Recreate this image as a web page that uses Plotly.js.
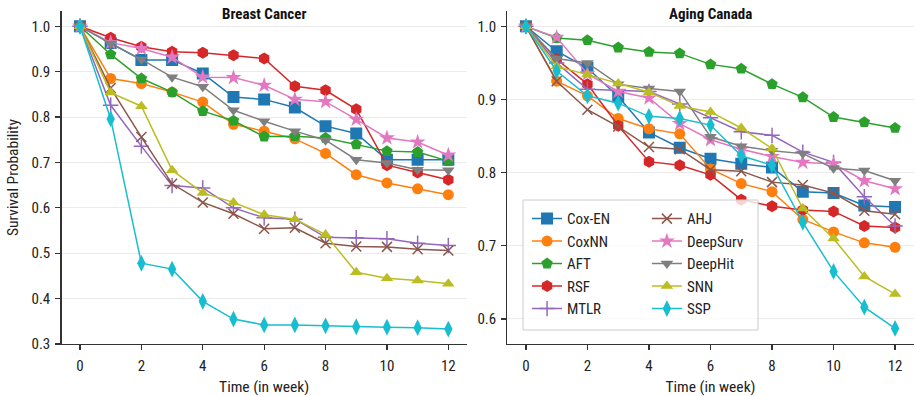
<!DOCTYPE html>
<html><head><meta charset="utf-8">
<script src="https://cdn.plot.ly/plotly-3.0.1.min.js"></script>
<style>html,body{margin:0;padding:0;background:#fff}#chart{width:915px;height:396px}</style>
</head><body><div id="chart"></div>
<script>
const weeks = [0,1,2,3,4,5,6,7,8,9,10,11,12];
const methods = ['Cox-EN','CoxNN','AFT','RSF','MTLR','AHJ','DeepSurv','DeepHit','SNN','SSP'];
const panelTitles = ['Breast Cancer','Aging Canada'];
const xTickVals = [0,2,4,6,8,10,12];

// Breast Cancer
const bcCoxEN    = [1.0,0.963,0.926,0.926,0.896,0.844,0.839,0.821,0.780,0.764,0.706,0.706,0.706];
const bcCoxNN    = [1.0,0.885,0.874,0.855,0.833,0.784,0.769,0.752,0.720,0.673,0.655,0.642,0.629];
const bcAFT      = [1.0,0.938,0.885,0.855,0.813,0.792,0.757,0.758,0.754,0.740,0.725,0.723,0.703];
const bcRSF      = [1.0,0.975,0.955,0.944,0.942,0.936,0.929,0.868,0.859,0.817,0.694,0.678,0.662];
const bcMTLR     = [1.0,0.826,0.736,0.649,0.644,0.600,0.578,0.575,0.535,0.534,0.532,0.522,0.517];
const bcAHJ      = [1.0,0.864,0.756,0.653,0.612,0.587,0.554,0.556,0.522,0.515,0.514,0.509,0.506];
const bcDeepSurv = [1.0,0.964,0.951,0.932,0.888,0.887,0.870,0.839,0.834,0.795,0.754,0.745,0.716];
const bcDeepHit  = [1.0,0.962,0.927,0.888,0.867,0.815,0.791,0.769,0.749,0.706,0.699,0.684,0.683];
const bcSNN      = [1.0,0.854,0.824,0.683,0.633,0.612,0.585,0.575,0.541,0.458,0.445,0.440,0.433];
const bcSSP      = [1.0,0.796,0.478,0.465,0.394,0.355,0.342,0.342,0.340,0.338,0.337,0.336,0.333];

// Aging Canada
const acCoxEN    = [1.0,0.966,0.943,0.904,0.855,0.834,0.819,0.812,0.807,0.774,0.772,0.755,0.753];
const acCoxNN    = [1.0,0.925,0.905,0.874,0.860,0.853,0.805,0.785,0.774,0.736,0.719,0.704,0.698];
const acAFT      = [1.0,0.984,0.981,0.971,0.965,0.963,0.948,0.942,0.921,0.903,0.876,0.869,0.861];
const acRSF      = [1.0,0.955,0.921,0.864,0.815,0.810,0.797,0.763,0.754,0.749,0.747,0.727,0.725];
const acMTLR     = [1.0,0.950,0.914,0.913,0.911,0.894,0.875,0.856,0.851,0.828,0.814,0.767,0.727];
const acAHJ      = [1.0,0.925,0.886,0.863,0.835,0.832,0.804,0.802,0.787,0.783,0.772,0.748,0.743];
const acDeepSurv = [1.0,0.985,0.935,0.911,0.902,0.867,0.845,0.832,0.822,0.814,0.812,0.789,0.778];
const acDeepHit  = [1.0,0.956,0.950,0.921,0.915,0.911,0.849,0.836,0.830,0.826,0.806,0.803,0.789];
const acSNN      = [1.0,0.945,0.934,0.922,0.910,0.891,0.883,0.861,0.833,0.751,0.710,0.658,0.634];
const acSSP      = [1.0,0.939,0.905,0.895,0.877,0.874,0.865,0.823,0.810,0.732,0.665,0.616,0.587];

const bcSeries = [bcCoxEN,bcCoxNN,bcAFT,bcRSF,bcMTLR,bcAHJ,bcDeepSurv,bcDeepHit,bcSNN,bcSSP];
const acSeries = [acCoxEN,acCoxNN,acAFT,acRSF,acMTLR,acAHJ,acDeepSurv,acDeepHit,acSNN,acSSP];

const colors = ['#1f77b4','#ff7f0e','#2ca02c','#d62728','#9467bd','#8c564b','#e377c2','#7f7f7f','#bcbd22','#17becf'];
const symbols = ['square','circle','pentagon','hexagon','cross-thin','x-thin','star','triangle-down','triangle-up','diamond-tall'];
const sizes = [12,11,12,12,11,10,12,11,11,12];

const FONT = 'Roboto Condensed, Liberation Sans Narrow, DejaVu Sans Condensed, Roboto, sans-serif';
const INK = '#222';

const traces = [];
[bcSeries, acSeries].forEach((series, p) => {
  series.forEach((vals, i) => {
    const thin = symbols[i].endsWith('-thin');
    traces.push({
      type: 'scatter', mode: 'lines+markers',
      x: weeks, y: vals, name: methods[i],
      xaxis: p === 0 ? 'x' : 'x2', yaxis: p === 0 ? 'y' : 'y2',
      line: {color: colors[i], width: 1.5},
      marker: {symbol: symbols[i], size: sizes[i], color: colors[i],
               line: {color: colors[i], width: thin ? 1.5 : 0}},
      showlegend: p === 1,
      legend: i < 5 ? 'legend' : 'legend2'
    });
  });
});

const axisCommon = {
  showline: true, linecolor: '#333', linewidth: 1.3,
  ticks: 'outside', ticklen: 5, tickwidth: 1.2, tickcolor: '#333',
  tickfont: {family: FONT, size: 15, color: INK},
  zeroline: false, automargin: false
};
const xCommon = Object.assign({}, axisCommon, {
  range: [-0.6, 12.6], tickvals: xTickVals, showgrid: false, ticklabelstandoff: 3,
  title: {text: 'Time (in week)', font: {family: FONT, size: 15.5, color: INK}, standoff: 10}
});

const legendCommon = {
  xanchor: 'left', yanchor: 'top', bgcolor: 'rgba(0,0,0,0)', borderwidth: 0,
  font: {family: FONT, size: 15, color: INK}, itemwidth: 30, tracegroupgap: 0
};

const layout = {
  width: 915, height: 396,
  margin: {l: 0, r: 0, t: 0, b: 0},
  paper_bgcolor: '#fff', plot_bgcolor: '#fff',
  showlegend: true,
  xaxis: Object.assign({}, xCommon, {domain: [0.0673, 0.5101], anchor: 'y'}),
  xaxis2: Object.assign({}, xCommon, {domain: [0.5546, 0.9984], anchor: 'y2'}),
  yaxis: Object.assign({}, axisCommon, {
    domain: [0.1313, 0.9717], anchor: 'x', range: [0.3, 1.0333],
    tickvals: [0.3,0.4,0.5,0.6,0.7,0.8,0.9,1.0], tickformat: '.1f', ticklabelstandoff: 2,
    showgrid: true, gridcolor: '#ebebeb', gridwidth: 1,
    title: {text: 'Survival Probability', font: {family: FONT, size: 15.5, color: INK}, standoff: 9}
  }),
  yaxis2: Object.assign({}, axisCommon, {
    domain: [0.1313, 0.9717], anchor: 'x2', range: [0.5657, 1.0207],
    tickvals: [0.6,0.7,0.8,0.9,1.0], tickformat: '.1f', ticklabelstandoff: 2,
    showgrid: true, gridcolor: '#ebebeb', gridwidth: 1
  }),
  legend: Object.assign({}, legendCommon, {x: 0.576, y: 0.489}),
  legend2: Object.assign({}, legendCommon, {x: 0.707, y: 0.489}),
  shapes: [{
    type: 'rect', xref: 'paper', yref: 'paper', layer: 'above',
    x0: 523/915, x1: 758/915, y0: 1 - 330/396, y1: 1 - 200/396,
    line: {color: '#cccccc', width: 1}, fillcolor: 'rgba(255,255,255,0.8)'
  }],
  annotations: panelTitles.map((t, p) => ({
    text: '<b>' + t + '</b>', xref: 'paper', yref: 'paper',
    x: p === 0 ? (61.6 + 466.7) / 2 / 915 : (507.5 + 913.5) / 2 / 915,
    y: 1 - 14/396, xanchor: 'center', yanchor: 'middle', showarrow: false,
    font: {family: FONT, size: 15, color: '#111'}
  }))
};

Plotly.newPlot('chart', traces, layout, {displayModeBar: false, staticPlot: true});
</script>
</body></html>
